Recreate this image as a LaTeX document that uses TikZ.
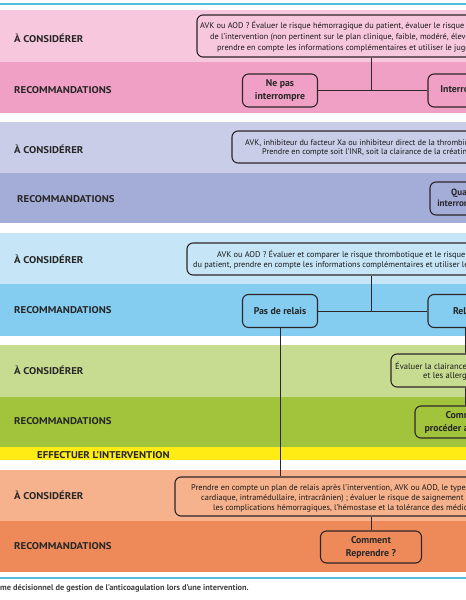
\documentclass[tikz,border=0pt]{standalone}
\usepackage{fontspec}
\setmainfont{PT Sans}
\newfontfamily\titrefont{PT Sans}[FakeStretch=1.1]
\usetikzlibrary{positioning}
\definecolor{rosecl}{RGB}{247,199,222}
\definecolor{rosefc}{RGB}{241,160,197}
\definecolor{lavcl}{RGB}{201,205,232}
\definecolor{lavfc}{RGB}{164,172,216}
\definecolor{bleucl}{RGB}{198,229,246}
\definecolor{bleufc}{RGB}{132,205,240}
\definecolor{vertcl}{RGB}{200,220,145}
\definecolor{vertfc}{RGB}{162,196,60}
\definecolor{jaune}{RGB}{255,236,20}
\definecolor{orangecl}{RGB}{246,178,140}
\definecolor{orangefc}{RGB}{238,138,90}
\definecolor{filet}{RGB}{80,190,222}
\definecolor{trait}{RGB}{45,38,40}
\tikzset{
  bande/.style={anchor=base west,inner sep=0pt,text=black!85,font=\titrefont\fontsize{9.8}{11}\selectfont\bfseries},
  boite/.style={draw=trait,line width=1.1pt,rounded corners=6pt,align=center,inner sep=0pt},
  ligne/.style={anchor=base west,inner sep=0pt,text=black!90,font=\fontsize{8.3}{10}\selectfont},
  petite/.style={ligne,font=\fontsize{8.2}{10}\selectfont},
  choix/.style={boite,minimum height=33pt,text=black!85,font=\fontsize{9.8}{13}\selectfont\bfseries},
  lien/.style={draw=trait,line width=0.8pt}
}
\begin{document}
\begin{tikzpicture}[x=1pt,y=-1pt]
  \useasboundingbox (0,0) rectangle (466,600);
  \clip (0,0) rectangle (466,600);
  % bandes de couleur
  \fill[rosecl] (0,10) rectangle (466,62);
  \fill[rosefc] (0,62) rectangle (466,113);
  \fill[lavcl] (0,122) rectangle (466,173);
  \fill[lavfc] (0,173) rectangle (466,223);
  \fill[bleucl] (0,233) rectangle (466,284);
  \fill[bleufc] (0,284) rectangle (466,336);
  \fill[vertcl] (0,345) rectangle (466,397);
  \fill[vertfc] (0,397) rectangle (466,447);
  \fill[jaune] (0,447) rectangle (466,460);
  \fill[orangecl] (0,470) rectangle (466,521);
  \fill[orangefc] (0,521) rectangle (466,572);
  \draw[filet,line width=1.2pt] (0,4) -- (466,4);
  \draw[filet,line width=1.2pt] (0,578) -- (466,578);
  % titres des bandes
  \node[bande] (c1) at (14,42) {À CONSIDÉRER};
  \node[bande] (r1) at (14,93) {RECOMMANDATIONS};
  \node[bande] (c2) at (14,153) {À CONSIDÉRER};
  \node[bande] (r2) at (17,202) {RECOMMANDATIONS};
  \node[bande] (c3) at (14,263) {À CONSIDÉRER};
  \node[bande] (r3) at (14,313) {RECOMMANDATIONS};
  \node[bande] (c4) at (14,374) {À CONSIDÉRER};
  \node[bande] (r4) at (14,424) {RECOMMANDATIONS};
  \node[bande] (op) at (37,458) {EFFECTUER L’INTERVENTION};
  \node[bande] (c5) at (14,499) {À CONSIDÉRER};
  \node[bande] (r5) at (14,549) {RECOMMANDATIONS};
  % interruption
  \node[boite,minimum width=348pt,minimum height=42pt] (avis1) at (371,36) {};
  \node[ligne] (a1) at (200,28.5) {AVK ou AOD ? Évaluer le risque hémorragique du patient, évaluer le risque};
  \node[ligne] (a2) at (210,39.3) {de l’intervention (non pertinent sur le plan clinique, faible, modéré, élevé,};
  \node[ligne] (a3) at (217,50.1) {prendre en compte les informations complémentaires et utiliser le jugement};
  \node[choix,minimum width=75pt] (nepas) at (280,90.5) {Ne pas\\interrompre};
  \node[choix,minimum width=75pt] (interr) at (465.5,90.5) {Interrompre};
  \draw[lien] (avis1.south) -- (avis1.south |- nepas.east);
  \draw[lien] (nepas) -- (interr);
  % quand interrompre
  \node[boite,minimum width=278pt,minimum height=32pt] (avis2) at (371,147) {};
  \node[petite] (b1) at (245,145.3) {AVK, inhibiteur du facteur Xa ou inhibiteur direct de la thrombine};
  \node[petite] (b2) at (262,154.8) {Prendre en compte soit l’INR, soit la clairance de la créatinine};
  \node[choix,minimum width=68pt,font=\fontsize{9.2}{11.5}\selectfont\bfseries] (quand) at (464,198.5) {Quand\\interrompre ?};
  % relais
  \node[boite,minimum width=368pt,minimum height=32pt] (avis3) at (371,259) {};
  \node[ligne] (d1) at (217,257.5) {AVK ou AOD ? Évaluer et comparer le risque thrombotique et le risque};
  \node[ligne] (d2) at (193,267.5) {du patient, prendre en compte les informations complémentaires et utiliser le};
  \node[choix,minimum width=75pt] (pasrel) at (280,311) {Pas de relais};
  \node[choix,minimum width=75pt] (relais) at (465.5,311) {Relais};
  \draw[lien] (avis3.south) -- (avis3.south |- pasrel.east);
  \draw[lien] (pasrel) -- (relais);
  % comment proceder
  \node[boite,minimum width=149pt,minimum height=33pt] (avis4) at (465.5,370.5) {};
  \node[ligne,font=\fontsize{8.6}{10}\selectfont] (e1) at (395,369.3) {Évaluer la clairance};
  \node[ligne,font=\fontsize{8.6}{10}\selectfont] (e2) at (423,378.6) {et les allergies};
  \node[choix,minimum width=101pt,minimum height=32pt] (proc) at (465.5,422) {Comment\\procéder au relais ?};
  \draw[lien] (relais) -- (avis4);
  \draw[lien] (avis4) -- (proc);
  % reprise
  \node[boite,minimum width=392pt,minimum height=39pt] (avis5) at (371,496.5) {};
  \node[ligne] (f1) at (191,490.5) {Prendre en compte un plan de relais après l’intervention, AVK ou AOD, le type};
  \node[ligne] (f2) at (201,500.5) {cardiaque, intramédullaire, intracrânien) ; évaluer le risque de saignement après};
  \node[ligne] (f3) at (213,510.5) {les complications hémorragiques, l’hémostase et la tolérance des médicaments};
  \node[choix,minimum width=101pt,minimum height=32pt] (repr) at (371,547) {Comment\\Reprendre ?};
  \draw[lien] (pasrel) -- (pasrel |- avis5.north);
  \draw[lien] (avis5) -- (repr);
  % legende
  \node[anchor=base west,inner sep=0pt,text=black!75,font=\fontsize{8.3}{9}\selectfont\bfseries] (leg) at (0,590)
    {me décisionnel de gestion de l’anticoagulation lors d’une intervention.};
\end{tikzpicture}
\end{document}
